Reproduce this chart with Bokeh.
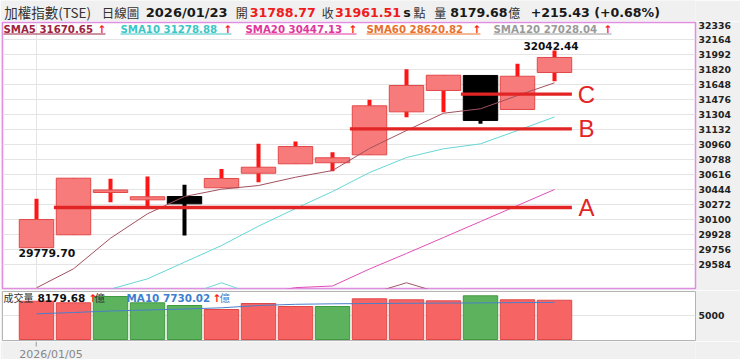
from bokeh.plotting import figure
from bokeh.models import Range1d, FixedTicker, Label, ColumnDataSource
from bokeh.layouts import column
from bokeh.embed import file_html
from bokeh.resources import INLINE

nan = float("nan")

# ---------------- data ----------------
dates = ["2026/01/05", "2026/01/06", "2026/01/07", "2026/01/08", "2026/01/09",
         "2026/01/12", "2026/01/13", "2026/01/14", "2026/01/15", "2026/01/16",
         "2026/01/19", "2026/01/20", "2026/01/21", "2026/01/22", "2026/01/23"]
open_ = [29779.70, 29928, 30413, 30329, 30367, 30467, 30634, 30742, 30754, 30845,
         31338, 31583, 31755, 31365, 31788.77]
high = [30341, 30577, 30570, 30596, 30501, 30682, 30971, 30998, 30875, 31476,
        31827, 31758, 31755, 31889, 32042.44]
low = [29779.70, 29928, 30302, 30252, 29920, 30467, 30531, 30742, 30657, 30845,
       31276, 31334, 31201, 31365, 31689]
close = [30103, 30577, 30442, 30364, 30283, 30574, 30703, 30940, 30811, 31407,
         31640, 31758, 31239, 31746.08, 31961.51]
sma5 = [29320, 29538, 29889, 30169, 30367, 30451, 30493, 30588, 30665, 30918,
        31124, 31322, 31373, 31525, 31670.65]
sma10 = [nan, nan, 29305, 29423, 29614, 29805, 30027, 30229, 30424, 30642,
         30814, 30914, 30971, 31124, 31278.88]
sma20 = [nan, nan, nan, nan, nan, nan, 29250, 29322, 29341, 29536,
         29714, 29897, 30080, 30264, 30447.13]
aux_cyan = [nan, nan, nan, nan, 29229, 29378, 29229, nan, nan, nan, nan, nan, nan, nan, nan]
aux_brown = [nan, nan, nan, nan, nan, nan, nan, nan, nan, 29250, 29378, 29250, nan, nan, nan]
sma60_last = 28620.82
sma120_last = 27028.04
vol = [7979, 7646, 8958, 7646, 7083, 6250, 7500, 6875, 6875, 8479,
       8271, 8063, 9104, 8271, 8179.68]
vol_ma10 = [5354, 5625, 5938, 6146, 6354, 6604, 7083, 7333, 7438, 7500,
            7542, 7583, 7625, 7688, 7730.02]
y_ticks = [29584, 29756, 29928, 30100, 30272, 30444, 30616, 30788, 30960,
           31132, 31304, 31476, 31648, 31820, 31992, 32164, 32336]
vol_ticks = [5000]
levels = [30241, 31143, 31540]
level_names = ["A", "B", "C"]
level_from = [0, 8, 11]

# ---------------- styles / layout ----------------
W = 740
FL, FR = 2, 695
X_PX0, X_STEP = 36, 37
HH = 21                      # header strip 0..21
T1, B1, H1 = 22, 288, 269    # main panel figure 21..290
T2, B2, H2 = 291, 340, 51    # volume figure 290..341
HF = 18                      # footer strip 341..359
NUM_FONT = "DejaVu Sans"
CJK_FONT = "Noto Sans CJK TC"
PAGE_BG = "#f0f0f0"
RED = "#ee1c1c"


def dx(px):
    return (px - X_PX0) / X_STEP


def dy1(py):
    return 31992 - (py - 54.3) * 172 / 15


def dy2(py):
    return (339 - py) * 5000 / 24


def ident(v):
    return v


def lab(fig, xf, yf, text, px, py, size, color="#222222", bold=False, font=NUM_FONT,
        align="left"):
    fig.add_layout(Label(x=xf(px), y=yf(py), text=text, text_font=font,
                         text_font_size=f"{size}px",
                         text_font_style="bold" if bold else "normal",
                         text_color=color, text_align=align, text_baseline="middle"))


def strip(height, y0):
    f = figure(width=W, height=height, x_range=Range1d(0, W),
               y_range=Range1d(y0 + height, y0), output_backend="svg",
               toolbar_location=None, x_axis_location=None, y_axis_location=None,
               min_border=0, min_border_left=0, min_border_right=0,
               min_border_top=0, min_border_bottom=0)
    f.background_fill_color = PAGE_BG
    f.border_fill_color = PAGE_BG
    f.outline_line_color = None
    f.grid.visible = False
    return f


n = len(dates)
idx = list(range(n))

# ---------------- header ----------------
ph = strip(HH, 0)
chg = close[-1] - close[-2]
pct = chg / close[-2] * 100
HY = 11.5
lab(ph, ident, ident, "加權指數(TSE)", 2, HY, 13.5, "#333333", font=CJK_FONT)
lab(ph, ident, ident, "日線圖", 106, HY, 12.5, "#333333", font=CJK_FONT)
lab(ph, ident, ident, dates[-1], 153, HY, 13, "#1a1a1a", True)
lab(ph, ident, ident, "開", 249, HY, 12, "#333333", font=CJK_FONT)
lab(ph, ident, ident, f"{open_[-1]:.2f}", 264, HY, 12.6, RED, True)
lab(ph, ident, ident, "收", 341, HY, 12, "#333333", font=CJK_FONT)
lab(ph, ident, ident, f"{close[-1]:.2f}", 355, HY, 12.6, RED, True)
lab(ph, ident, ident, "s", 428, HY, 12.6, "#1a1a1a", True)
lab(ph, ident, ident, "點", 439, HY, 12, "#333333", font=CJK_FONT)
lab(ph, ident, ident, "量", 461, HY, 12, "#333333", font=CJK_FONT)
lab(ph, ident, ident, f"{vol[-1]:.2f}", 478, HY, 12.6, "#1a1a1a", True)
lab(ph, ident, ident, "億", 540, HY, 12, "#333333", font=CJK_FONT)
lab(ph, ident, ident, f"{chg:+.2f} ({pct:+.2f}%)", 564, HY, 12.6, "#1a1a1a", True)

# ---------------- main panel ----------------
p1 = figure(width=W, height=H1, x_range=Range1d(dx(FL), dx(FR)),
            y_range=Range1d(dy1(B1), dy1(T1)), output_backend="svg",
            toolbar_location=None, x_axis_location=None, y_axis_location="right",
            min_border_left=FL, min_border_right=W - FR, min_border_top=T1 - HH,
            min_border_bottom=HH + H1 - B1)
p1.background_fill_color = "white"
p1.border_fill_color = PAGE_BG
p1.outline_line_color = "#e08ee0"
p1.outline_line_width = 1.5
ax = p1.yaxis[0]
ax.ticker = FixedTicker(ticks=y_ticks)
ax.axis_line_color = None
ax.major_tick_line_color = None
ax.minor_tick_line_color = None
ax.major_tick_out = 0
ax.major_tick_in = 0
ax.major_label_standoff = 3
ax.major_label_text_font = NUM_FONT
ax.major_label_text_font_style = "bold"
ax.major_label_text_font_size = "9.3px"
ax.major_label_text_color = "#222222"
p1.ygrid.ticker = FixedTicker(ticks=y_ticks[:-1])
p1.ygrid.grid_line_color = "#e4e4e4"
p1.xgrid.ticker = FixedTicker(ticks=[0])
p1.xgrid.grid_line_color = "#e4e4e4"

up = [c >= o for o, c in zip(open_, close)]
src = ColumnDataSource(dict(
    x=idx, h=high, l=low,
    top=[max(o, c) for o, c in zip(open_, close)],
    bottom=[min(o, c) for o, c in zip(open_, close)],
    wick=["#ff1515" if u else "#000000" for u in up],
    fill=["#f77b7b" if u else "#000000" for u in up],
    edge=["#e24848" if u else "#000000" for u in up],
))
p1.segment(x0="x", y0="h", x1="x", y1="l", line_color="wick", line_width=4, source=src)
p1.vbar(x="x", top="top", bottom="bottom", width=0.93, fill_color="fill",
        line_color="edge", line_width=1, source=src)

p1.line(idx, aux_cyan, line_color="#6fd8d8", line_width=1)
p1.line(idx, aux_brown, line_color="#a05a64", line_width=1)
p1.line(idx, sma20, line_color="#e04fb8", line_width=1)
p1.line(idx, sma10, line_color="#66d6d6", line_width=1)
p1.line(idx, sma5, line_color="#a0525f", line_width=1)

lv_x0 = [f + 0.47 for f in level_from]
lv_x1 = [(n - 1) + 0.47 for _ in levels]
p1.segment(x0=lv_x0, x1=lv_x1, y0=levels, y1=levels, line_color="#e32424", line_width=3.3)
for name, lv in zip(level_names, levels):
    p1.add_layout(Label(x=dx(586), y=lv, text=name, text_font="Liberation Sans",
                        text_font_size="24px", text_color="#e32424",
                        text_align="center", text_baseline="middle"))

# extreme value labels
lab(p1, dx, dy1, f"{high[-1]:.2f}", 550.5, 45, 10.5, "#111111", True, align="center")
lab(p1, dx, dy1, f"{low[0]:.2f}", 18, 252.7, 10.8, "#111111", True)

# legend row
LY = 28.5
leg_vals = [sma5[-1], sma10[-1], sma20[-1], sma60_last, sma120_last]
leg_names = ["SMA5", "SMA10", "SMA20", "SMA60", "SMA120"]
leg_cols = ["#9c2440", "#3cc6c6", "#e0369c", "#e8702a", "#9a9a9a"]
leg_x = [3, 120, 245, 366, 493]
leg_arrow = [97, 223, 348, 472, 603]
for nm, v, c, x0, xa in zip(leg_names, leg_vals, leg_cols, leg_x, leg_arrow):
    lab(p1, dx, dy1, f"{nm} {v:.2f}", x0, LY, 10.2, c, True)
    lab(p1, dx, dy1, "↑", xa, LY, 10.5, "#ff1a1a", True)
    p1.segment(x0=[dx(x0)], x1=[dx(xa + 8)], y0=[dy1(33.5)], y1=[dy1(33.5)],
               line_color=c, line_width=1)

# ---------------- volume panel ----------------
p2 = figure(width=W, height=H2, x_range=p1.x_range,
            y_range=Range1d(dy2(B2), dy2(T2)), output_backend="svg",
            toolbar_location=None, x_axis_location=None, y_axis_location="right",
            min_border_left=FL, min_border_right=W - FR, min_border_top=T2 - (HH + H1),
            min_border_bottom=HH + H1 + H2 - B2)
p2.background_fill_color = "white"
p2.border_fill_color = PAGE_BG
p2.outline_line_color = "#b4b4b4"
p2.outline_line_width = 1
ay = p2.yaxis[0]
ay.ticker = FixedTicker(ticks=vol_ticks)
ay.axis_line_color = None
ay.major_tick_line_color = None
ay.minor_tick_line_color = None
ay.major_tick_out = 0
ay.major_tick_in = 0
ay.major_label_standoff = 3
ay.major_label_text_font = NUM_FONT
ay.major_label_text_font_style = "bold"
ay.major_label_text_font_size = "9.3px"
ay.major_label_text_color = "#222222"
p2.xgrid.visible = False
p2.ygrid.ticker = FixedTicker(ticks=vol_ticks)
p2.ygrid.grid_line_color = "#e4e4e4"

prev = [open_[0]] + close[:-1]
vup = [c >= pc for c, pc in zip(close, prev)]
vsrc = ColumnDataSource(dict(
    x=idx, v=vol,
    fill=["#f76464" if u else "#5db35d" for u in vup],
    edge=["#e04848" if u else "#3f993f" for u in vup],
))
p2.vbar(x="x", top="v", bottom=0, width=0.93, fill_color="fill", line_color="edge",
        line_width=1, source=vsrc)
p2.line(idx, vol_ma10, line_color="#4a7fc9", line_width=1)

VY = 297
lab(p2, dx, dy2, "成交量", 3, VY, 10, "#333333", font=CJK_FONT)
lab(p2, dx, dy2, f"{vol[-1]:.2f}", 37, VY, 10.5, "#111111", True)
lab(p2, dx, dy2, "↑", 88, VY, 10.5, "#ff1a1a", True)
lab(p2, dx, dy2, "億", 94, VY, 10.5, "#333333", font=CJK_FONT)
lab(p2, dx, dy2, f"MA10 {vol_ma10[-1]:.2f}", 126, VY, 10.4, "#3d7fd0", True)
lab(p2, dx, dy2, "↑", 212, VY, 10.5, "#ff1a1a", True)
lab(p2, dx, dy2, "億", 219, VY, 10.5, "#3d7fd0", font=CJK_FONT)

# ---------------- footer (date axis) ----------------
pf = strip(HF, HH + H1 + H2)
tick_px = X_PX0 + X_STEP * idx[0]
pf.segment(x0=[tick_px], x1=[tick_px], y0=[HH + H1 + H2], y1=[HH + H1 + H2 + 5],
           line_color="#999999", line_width=1)
lab(pf, ident, ident, dates[0], 18, 353.5, 11, "#888888")

layout = column(ph, p1, p2, pf, spacing=0,
                styles={"position": "absolute", "left": "0px", "top": "0px"})

open("out.html", "w").write(file_html(layout, INLINE))
